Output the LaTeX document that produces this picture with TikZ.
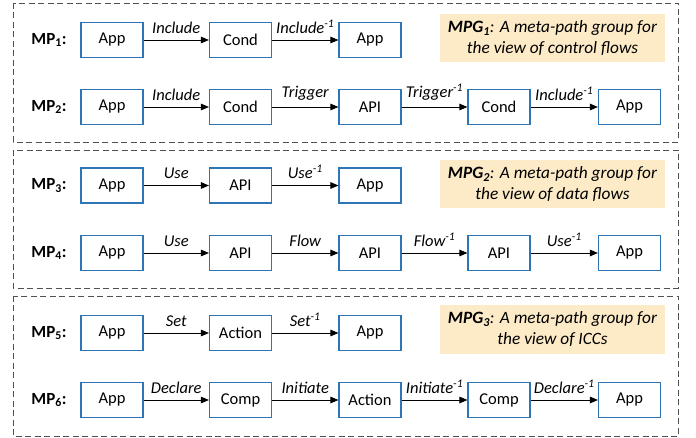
\documentclass[tikz,border=0pt]{standalone}
\usepackage{fontspec}
\setmainfont{Carlito}
\usetikzlibrary{arrows.meta}
\definecolor{boxblue}{HTML}{2E75B6}
\definecolor{mpgfill}{HTML}{FDEBC8}
\definecolor{dashgray}{HTML}{505050}
\tikzset{
  ent/.style={draw=boxblue, line width=1.1pt, fill=white, minimum width=62pt, minimum height=35pt, inner sep=0pt, font=\fontsize{16.5}{18}\selectfont},
  rel/.style={-{Triangle[length=8pt,width=6.5pt]}, line width=0.9pt, black},
  lab/.style={midway, above, yshift=5pt, inner sep=1pt, font=\fontsize{16.5}{18}\selectfont\itshape},
  mplab/.style={font=\fontsize{17}{19}\selectfont\bfseries, inner sep=0pt},
  panel/.style={draw=dashgray, line width=0.9pt, dash pattern=on 6pt off 3.5pt},
  mpg/.style={fill=mpgfill, draw=none, align=center, inner sep=0pt, minimum width=225pt, minimum height=48pt, font=\fontsize{17.3}{21}\selectfont\itshape}
}
\newcommand{\inv}{\textsuperscript{-1}}
\begin{document}
\begin{tikzpicture}[x=1pt,y=-1pt]
\useasboundingbox (0,0) rectangle (696,438);
% panels
\draw[panel] (13,3) rectangle (678,142);
\draw[panel] (13,150) rectangle (678,288);
\draw[panel] (13,296) rectangle (678,436);
% MPG notes
\node[mpg] (g1) at (552.5,38) {\textbf{MPG\textsubscript{1}}: A meta-path group for\\the view of control flows};
\node[mpg] (g2) at (552.5,184) {\textbf{MPG\textsubscript{2}}: A meta-path group for\\the view of data flows};
\node[mpg] (g3) at (552.5,329.5) {\textbf{MPG\textsubscript{3}}: A meta-path group for\\the view of ICCs};
% MP1
\node[mplab] (l1) at (49,40) {MP\textsubscript{1}:};
\node[ent] (a1) at (112,40) {App};
\node[ent] (b1) at (240.5,40) {Cond};
\node[ent] (c1) at (370,40) {App};
\draw[rel] (a1) -- (b1) node[lab] {Include};
\draw[rel] (b1) -- (c1) node[lab] {Include\inv};
% MP2
\node[mplab] (l2) at (49,107) {MP\textsubscript{2}:};
\node[ent] (a2) at (112,107) {App};
\node[ent] (b2) at (240.5,107) {Cond};
\node[ent] (c2) at (370,107) {API};
\node[ent] (d2) at (499,107) {Cond};
\node[ent] (e2) at (629.5,107) {App};
\draw[rel] (a2) -- (b2) node[lab] {Include};
\draw[rel] (b2) -- (c2) node[lab] {Trigger};
\draw[rel] (c2) -- (d2) node[lab] {Trigger\inv};
\draw[rel] (d2) -- (e2) node[lab] {Include\inv};
% MP3
\node[mplab] (l3) at (49,185.5) {MP\textsubscript{3}:};
\node[ent] (a3) at (112,185.5) {App};
\node[ent] (b3) at (240.5,185.5) {API};
\node[ent] (c3) at (370,185.5) {App};
\draw[rel] (a3) -- (b3) node[lab] {Use};
\draw[rel] (b3) -- (c3) node[lab] {Use\inv};
% MP4
\node[mplab] (l4) at (49,253) {MP\textsubscript{4}:};
\node[ent] (a4) at (112,253) {App};
\node[ent] (b4) at (240.5,253) {API};
\node[ent] (c4) at (370,253) {API};
\node[ent] (d4) at (499,253) {API};
\node[ent] (e4) at (629.5,253) {App};
\draw[rel] (a4) -- (b4) node[lab] {Use};
\draw[rel] (b4) -- (c4) node[lab] {Flow};
\draw[rel] (c4) -- (d4) node[lab] {Flow\inv};
\draw[rel] (d4) -- (e4) node[lab] {Use\inv};
% MP5
\node[mplab] (l5) at (49,333) {MP\textsubscript{5}:};
\node[ent] (a5) at (112,333) {App};
\node[ent] (b5) at (240.5,333) {Action};
\node[ent] (c5) at (370,333) {App};
\draw[rel] (a5) -- (b5) node[lab] {Set};
\draw[rel] (b5) -- (c5) node[lab] {Set\inv};
% MP6
\node[mplab] (l6) at (49,400) {MP\textsubscript{6}:};
\node[ent] (a6) at (112,400) {App};
\node[ent] (b6) at (240.5,400) {Comp};
\node[ent] (c6) at (370,400) {Action};
\node[ent] (d6) at (499,400) {Comp};
\node[ent] (e6) at (629.5,400) {App};
\draw[rel] (a6) -- (b6) node[lab] {Declare};
\draw[rel] (b6) -- (c6) node[lab] {Initiate};
\draw[rel] (c6) -- (d6) node[lab] {Initiate\inv};
\draw[rel] (d6) -- (e6) node[lab] {Declare\inv};
\end{tikzpicture}
\end{document}
